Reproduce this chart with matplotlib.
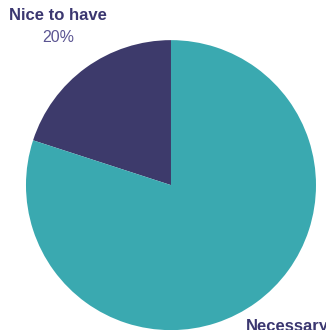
import matplotlib
matplotlib.use("Agg")
import matplotlib.pyplot as plt

labels = ["Nice to have", "Necessary"]
shares = [20, 80]
colors = ["#3d3a6b", "#3aa9b0"]

plt.rcParams['font.family'] = ['Liberation Sans', 'DejaVu Sans']

fig = plt.figure(figsize=(3.26, 3.30), dpi=100)
ax = fig.add_axes([0.0797, -0.0004, 0.8896, 0.8788])
ax.pie(shares, colors=colors, startangle=90, counterclock=True,
       radius=1.0, wedgeprops=dict(linewidth=0))
ax.set_xlim(-1, 1)
ax.set_ylim(-1, 1)
ax.set_aspect("auto")
ax.axis("off")

# slice labels with percentages underneath
fig.text(58 / 326, 1 - 15 / 330, labels[0], ha="center", va="center",
         fontsize=12, fontweight="bold", color="#3b3770")
fig.text(58 / 326, 1 - 37 / 330, f"{shares[0]}%", ha="center", va="center",
         fontsize=11.5, color="#5b5592")
fig.text(287 / 326, 1 - 327 / 330, labels[1], ha="center", va="center",
         fontsize=12, fontweight="bold", color="#3b3770")
fig.text(287 / 326, 1 - 350 / 330, f"{shares[1]}%", ha="center", va="center",
         fontsize=11.5, color="#5b5592")

fig.savefig("out.png", dpi=100, facecolor="white")
